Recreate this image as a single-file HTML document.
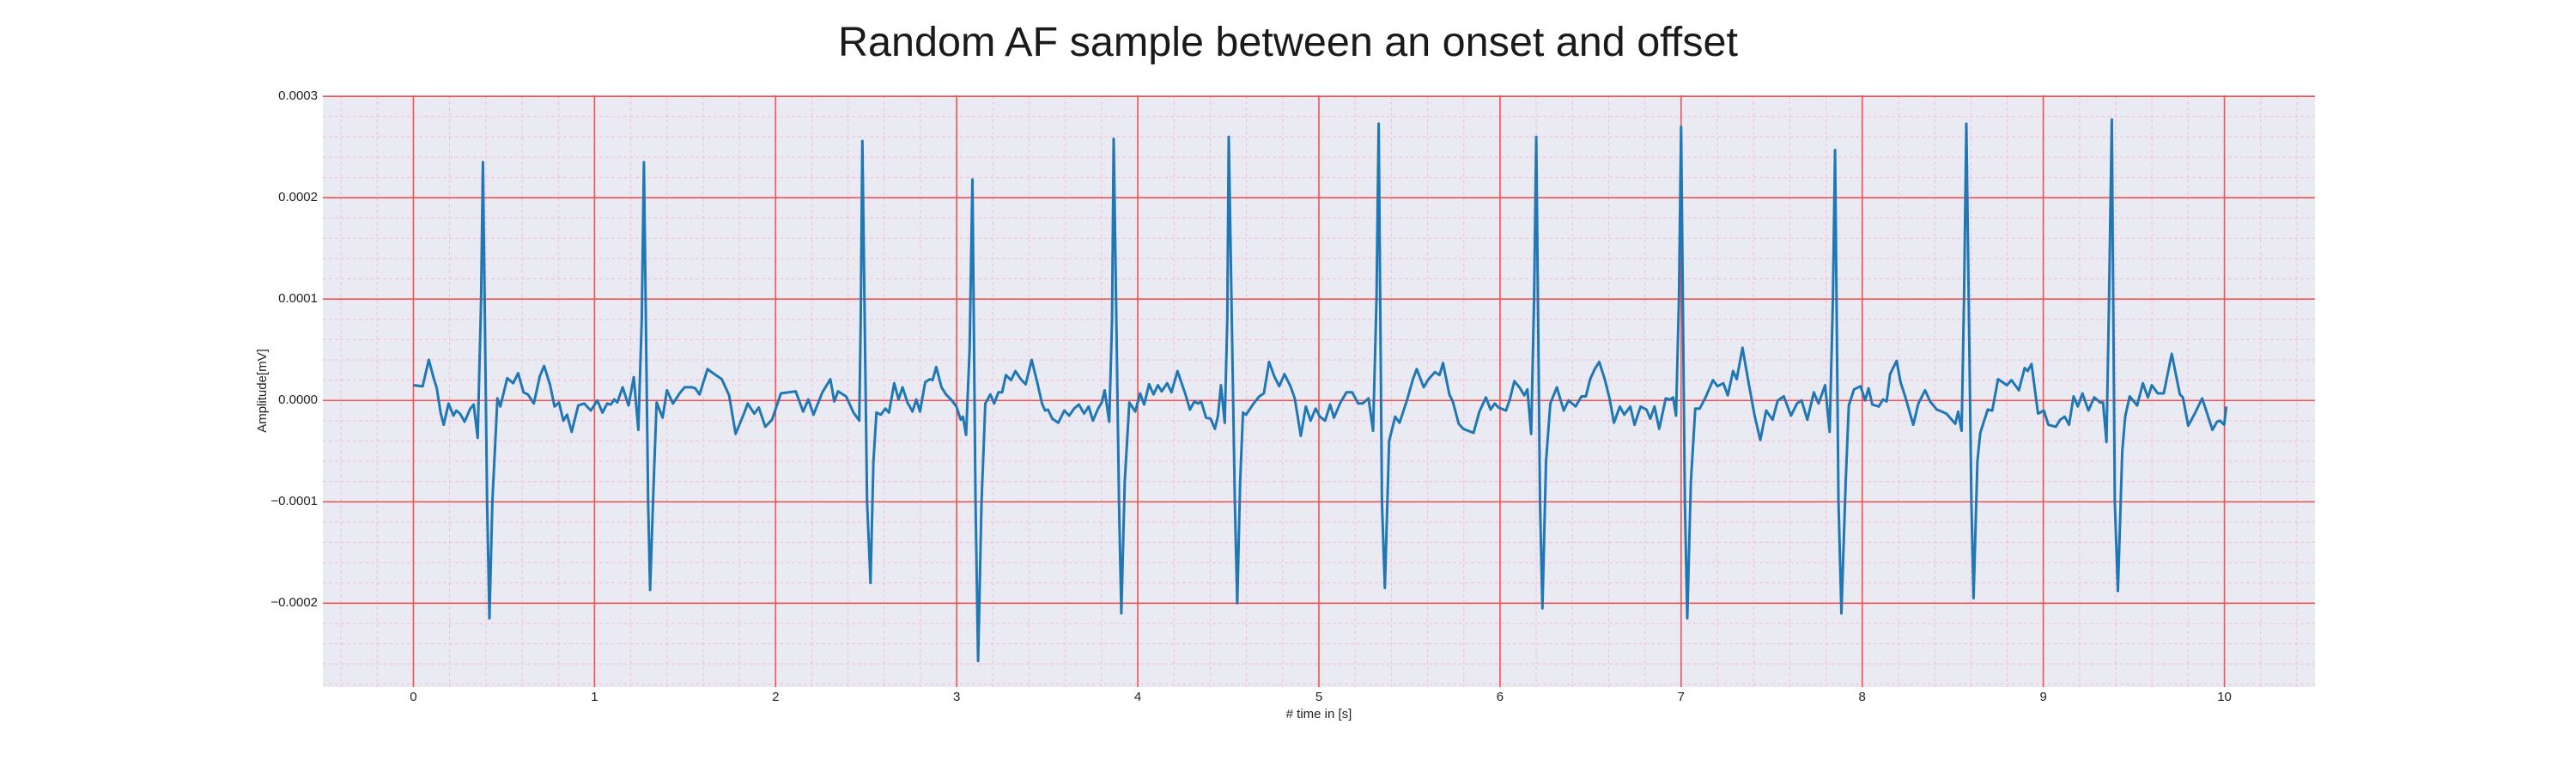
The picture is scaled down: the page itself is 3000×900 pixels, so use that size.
<!DOCTYPE html>
<html><head><meta charset="utf-8"><style>
html,body{margin:0;padding:0;background:#fff;}
svg{display:block;font-family:"Liberation Sans",sans-serif;}
</style></head><body>
<svg id="chart" width="3000" height="900" viewBox="0 0 3000 900" xmlns="http://www.w3.org/2000/svg">
<text x="1500" y="52" text-anchor="middle" dominant-baseline="middle" font-size="48.5" fill="#1a1a1a">Random AF sample between an onset and offset</text>
<rect x="376" y="111" width="2320" height="689" fill="#eaeaf2"/>
<g id="grid"></g>
<g id="ticks"></g>
<path id="signal" fill="none" stroke="#1f77b4" stroke-width="3" stroke-linejoin="round"/>
<text x="1536" y="832" text-anchor="middle" dominant-baseline="middle" font-size="15" fill="#222"># time in [s]</text>
<text x="306" y="455" text-anchor="middle" dominant-baseline="middle" font-size="15" fill="#222" transform="rotate(-90 306 455)">Amplitude[mV]</text>
</svg>
<script>
// ---- data (time in s, amplitude in 1e-5 mV) ----
const times = [0,0.051,0.085,0.109,0.129,0.15,0.167,0.194,0.221,0.237,0.257,0.283,0.314,0.333,0.355,0.374,0.384,0.407,0.42,0.436,0.464,0.48,0.518,0.551,0.578,0.608,0.632,0.665,0.698,0.722,0.755,0.779,0.804,0.828,0.848,0.874,0.91,0.943,0.98,1.016,1.044,1.07,1.09,1.109,1.126,1.155,1.188,1.217,1.242,1.261,1.273,1.296,1.307,1.327,1.343,1.376,1.4,1.433,1.474,1.498,1.539,1.556,1.58,1.624,1.654,1.703,1.743,1.779,1.825,1.846,1.882,1.907,1.943,1.98,2.029,2.07,2.111,2.152,2.181,2.209,2.258,2.302,2.324,2.345,2.389,2.43,2.462,2.47,2.479,2.505,2.524,2.54,2.557,2.581,2.606,2.626,2.655,2.679,2.701,2.728,2.756,2.777,2.797,2.826,2.851,2.867,2.887,2.916,2.941,2.973,2.998,3.022,3.034,3.052,3.071,3.087,3.104,3.118,3.137,3.158,3.186,3.207,3.23,3.251,3.272,3.3,3.324,3.354,3.381,3.414,3.447,3.471,3.488,3.504,3.528,3.561,3.594,3.621,3.648,3.675,3.703,3.729,3.752,3.781,3.801,3.817,3.842,3.858,3.867,3.896,3.909,3.928,3.953,3.986,4.013,4.035,4.062,4.087,4.111,4.132,4.162,4.186,4.219,4.263,4.288,4.312,4.333,4.35,4.377,4.402,4.426,4.443,4.459,4.48,4.494,4.502,4.536,4.549,4.565,4.581,4.598,4.639,4.671,4.696,4.725,4.753,4.781,4.81,4.843,4.867,4.9,4.928,4.954,4.982,5.005,5.034,5.062,5.083,5.119,5.152,5.184,5.217,5.241,5.274,5.299,5.318,5.33,5.348,5.364,5.388,5.421,5.445,5.486,5.519,5.54,5.579,5.605,5.641,5.666,5.685,5.72,5.739,5.772,5.797,5.854,5.886,5.922,5.948,5.971,5.992,6.033,6.054,6.079,6.107,6.134,6.151,6.172,6.188,6.2,6.221,6.234,6.254,6.278,6.314,6.352,6.379,6.417,6.45,6.474,6.498,6.523,6.548,6.58,6.605,6.629,6.662,6.686,6.719,6.743,6.776,6.809,6.83,6.853,6.879,6.915,6.939,6.956,6.972,6.988,7.0,7.021,7.034,7.054,7.078,7.103,7.135,7.176,7.201,7.233,7.258,7.287,7.307,7.339,7.372,7.405,7.437,7.47,7.505,7.534,7.567,7.607,7.64,7.665,7.697,7.733,7.759,7.795,7.82,7.838,7.85,7.869,7.885,7.909,7.926,7.955,7.991,8.016,8.035,8.056,8.092,8.114,8.135,8.154,8.19,8.212,8.239,8.282,8.31,8.347,8.375,8.412,8.44,8.465,8.514,8.53,8.549,8.562,8.575,8.603,8.615,8.636,8.652,8.693,8.718,8.75,8.775,8.799,8.824,8.865,8.897,8.914,8.935,8.971,9.003,9.028,9.069,9.093,9.118,9.142,9.167,9.191,9.216,9.249,9.281,9.314,9.33,9.349,9.363,9.378,9.395,9.412,9.436,9.452,9.477,9.518,9.55,9.578,9.599,9.632,9.665,9.709,9.754,9.771,9.8,9.836,9.877,9.901,9.934,9.959,9.975,9.999,10.01];
const amps = [1.5,1.4,4.0,2.4,1.2,-1.2,-2.4,-0.3,-1.5,-1.0,-1.3,-2.1,-0.8,-0.4,-3.7,10,23.5,-10,-21.5,-10,0.2,-0.6,2.2,1.7,2.7,0.8,0.6,-0.3,2.4,3.4,1.5,-0.6,-0.2,-2.0,-1.4,-3.1,-0.5,-0.3,-1.0,0,-1.2,-0.3,-0.4,0.1,-0.2,1.3,-0.5,2.3,-2.9,8,23.5,-10,-18.7,-8,-0.2,-1.7,1.0,-0.3,0.8,1.3,1.3,1.2,0.6,3.1,2.7,2.1,0.5,-3.3,-1.3,-0.3,-1.3,-0.7,-2.6,-1.9,0.7,0.8,0.9,-1.1,0.1,-1.4,0.8,2.1,-0.1,0.9,0.4,-1.2,-2.0,8,25.6,-10,-18,-6,-1.2,-1.4,-0.8,-1.2,1.7,0.1,1.3,-0.2,-1.1,0.1,-1.1,1.8,2.1,2.0,3.3,1.3,0.6,0,-0.6,-1.9,-1.6,-3.4,5,21.8,-10,-25.7,-10,-0.3,0.6,-0.3,0.8,0.8,2.5,2.0,2.9,2.1,1.6,4.0,1.6,-0.3,-1.0,-0.9,-1.8,-2.2,-1.0,-1.5,-0.8,-0.4,-1.3,-0.6,-2.0,-0.8,-0.2,1.0,-2.1,8,25.8,-10,-21,-8,-0.2,-1.1,0.7,-0.4,1.6,0.6,1.5,0.9,1.7,0.8,2.9,0.6,-0.9,-0.1,-0.3,-0.1,-1.7,-1.8,-2.8,-1.5,1.5,-2.2,8,26,-10,-20,-8,-1.2,-1.4,-0.3,0.4,0.7,3.8,2.4,1.4,2.6,1.4,0.2,-3.5,-0.6,-2.0,-0.8,-1.6,-2.0,-0.4,-1.7,-0.2,0.8,0.8,-0.3,-0.3,0.2,-3.0,10,27.3,-10,-18.5,-4,-1.6,-2.2,0,2.1,3.1,1.3,2.1,2.8,2.5,3.7,0.6,-0.1,-2.3,-2.8,-3.2,-1.1,0.3,-0.9,-0.3,-0.7,-1.0,0.1,1.9,1.3,0.5,1.1,-3.3,10,26,-10,-20.5,-6,-0.3,1.3,-1.0,0,-0.6,0.4,0.4,2.1,3.1,3.8,2.0,0.2,-2.2,-0.6,-1.4,-0.6,-2.4,-0.6,-0.9,-1.8,-0.6,-2.8,0.2,0.1,0.3,-1.5,10,27,-10,-21.5,-8,-0.8,-0.8,0.3,2.0,1.4,1.7,0.5,2.9,2.1,5.2,1.8,-1.4,-3.9,-1.0,-1.9,0,0.4,-1.5,-0.3,0,-1.9,0.8,-0.3,1.5,-3.1,10,24.7,-10,-21,-8,-0.5,1.1,1.4,0,1.2,-0.4,-0.6,0.1,-0.1,2.6,3.9,1.8,0.3,-2.4,-0.3,1.0,-0.1,-0.9,-1.1,-1.3,-2.3,-1.1,-3.0,10,27.3,-10,-19.5,-6,-3.2,-0.9,-1.0,2.1,1.8,1.5,2.0,1.0,3.2,2.9,3.6,-1.3,-1.0,-2.4,-2.6,-1.9,-1.6,-2.4,0.4,-0.6,0.7,-1.0,0.3,-0.2,-0.2,-4.1,10,27.7,-10,-18.8,-5,-1.6,0.4,-0.5,1.7,0.3,1.5,0.7,0.7,4.6,0.6,0.3,-2.5,-1.3,0.2,-1.1,-2.9,-2.1,-2.0,-2.4,-0.6];
const xMajorTicks = [0,1,2,3,4,5,6,7,8,9,10];
const yMajorTicks = [-0.0002,-0.0001,0,0.0001,0.0002,0.0003];
const yTickLabels = ["\u22120.0002","\u22120.0001","0.0000","0.0001","0.0002","0.0003"];

// ---- axes ----
const X0=376, X1=2696, Y0=111, Y1=800;
const xMin=-0.5, xMax=10.5, yMin=-0.0002828, yMax=0.000301;
const xs = t => X0 + (t - xMin) / (xMax - xMin) * (X1 - X0);
const ys = v => Y1 - (v - yMin) / (yMax - yMin) * (Y1 - Y0);
const NS = "http://www.w3.org/2000/svg";
const grid = document.getElementById('grid');
const ticks = document.getElementById('ticks');
function line(x1,y1,x2,y2,stroke,w,dash){
  const l=document.createElementNS(NS,'line');
  l.setAttribute('x1',x1);l.setAttribute('y1',y1);l.setAttribute('x2',x2);l.setAttribute('y2',y2);
  l.setAttribute('stroke',stroke);l.setAttribute('stroke-width',w);
  if(dash) l.setAttribute('stroke-dasharray',dash);
  return l;
}
// minor grid
for(let i=-2;i<=52;i++){
  const t=i*0.2; if(t<xMin||t>xMax) continue;
  if(Math.abs(t-Math.round(t))<1e-9) continue;
  const l=line(xs(t),Y0,xs(t),Y1,'#f3bde2',1,'4,3');
  
  
  grid.appendChild(l);
}
for(let i=-14;i<=15;i++){
  const v=i*0.00002; if(v<yMin||v>yMax) continue;
  if(i%5===0) continue;
  const l=line(X0,ys(v),X1,ys(v),'#f3bde2',1,'4,3');
  
  
  grid.appendChild(l);
}
// major grid + labels
xMajorTicks.forEach(t=>{
  const l=line(xs(t),Y0,xs(t),Y1,'#f55050',1.6);
  
  
  grid.appendChild(l);
  const tx=document.createElementNS(NS,'text');
  tx.setAttribute('x',xs(t));tx.setAttribute('y',812);
  tx.setAttribute('text-anchor','middle');tx.setAttribute('dominant-baseline','middle');
  tx.setAttribute('font-size','15');tx.setAttribute('fill','#222');
  tx.textContent=String(t);
  
  
  ticks.appendChild(tx);
});
yMajorTicks.forEach((v,i)=>{
  const l=line(X0,ys(v),X1,ys(v),'#f55050',1.6);
  
  
  grid.appendChild(l);
  const tx=document.createElementNS(NS,'text');
  tx.setAttribute('x',370);tx.setAttribute('y',ys(v));
  tx.setAttribute('text-anchor','end');tx.setAttribute('dominant-baseline','middle');
  tx.setAttribute('font-size','15');tx.setAttribute('fill','#222');
  tx.textContent=yTickLabels[i];
  
  
  ticks.appendChild(tx);
});
// signal
let d='';
for(let i=0;i<times.length;i++){
  d+=(i?'L':'M')+xs(times[i]).toFixed(1)+','+ys(amps[i]*1e-5).toFixed(1);
}
document.getElementById('signal').setAttribute('d',d);
</script>
</body></html>
